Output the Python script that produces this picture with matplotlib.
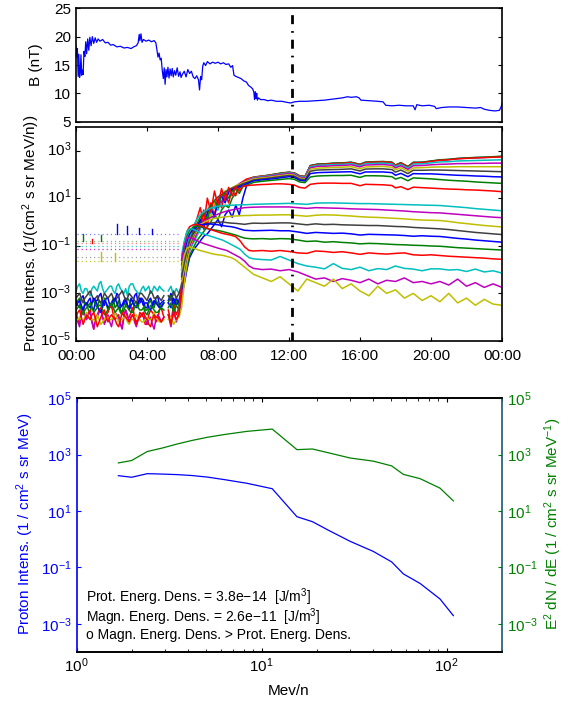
import numpy as np
import matplotlib
matplotlib.use('Agg')
import matplotlib.pyplot as plt
from matplotlib.ticker import FixedLocator, NullLocator, NullFormatter, LogLocator
from matplotlib.transforms import ScaledTranslation

plt.rcParams['font.family'] = ['Liberation Sans', 'DejaVu Sans']
plt.rcParams['mathtext.fontset'] = 'custom'
plt.rcParams['mathtext.rm'] = 'Liberation Sans'
plt.rcParams['mathtext.it'] = 'Liberation Sans:italic'
plt.rcParams['mathtext.bf'] = 'Liberation Sans:bold'
plt.rcParams['lines.scale_dashes'] = False
plt.rcParams['axes.linewidth'] = 1.2

# ---------------- top panel: magnetic field ----------------
B_t = [0.00,0.04,0.08,0.12,0.16,0.20,0.24,0.28,0.32,0.36,0.40,0.45,0.50,0.55,0.60,0.66,0.72,0.78,0.85,0.92,
       1.00,1.08,1.16,1.25,1.35,1.50,1.65,1.80,1.95,2.10,2.30,2.50,2.70,2.90,3.10,3.25,3.40,3.50,3.56,3.60,
       3.66,3.72,3.80,3.95,4.10,4.25,4.40,4.50,4.56,4.62,4.68,4.74,4.80,4.86,4.92,4.97,5.02,5.07,5.12,5.18,
       5.24,5.30,5.36,5.42,5.48,5.55,5.62,5.70,5.78,5.86,5.92,6.00,6.10,6.20,6.30,6.40,6.50,6.60,6.70,6.80,
       6.90,6.96,7.02,7.08,7.14,7.20,7.30,7.40,7.55,7.70,7.85,8.00,8.15,8.30,8.45,8.60,8.72,8.82,8.90,9.00,
       9.15,9.30,9.45,9.60,9.72,9.85,9.95,10.02,10.06,10.10,10.14,10.18,10.22,10.28,10.40,10.60,10.80,11.00,11.30,11.60,
       11.90,12.10,12.30,12.60,13.00,13.50,14.00,14.50,15.00,15.30,15.50,15.80,15.95,16.05,16.50,17.00,17.30,17.45,17.80,18.20,
       18.60,19.00,19.10,19.20,19.50,19.90,20.20,20.30,20.60,21.00,21.50,22.00,22.50,22.80,23.00,23.30,23.60,23.85,23.95,24.00]
B_nT = [18.3,16.4,17.9,13.0,16.9,12.8,13.6,16.8,13.2,14.1,13.3,17.4,16.5,19.1,17.0,19.6,17.6,19.9,18.4,20.0,
        18.8,19.8,19.0,19.6,19.2,19.5,18.9,19.0,18.5,18.6,18.2,18.3,18.0,18.1,17.9,18.2,18.4,18.9,20.4,19.3,
        20.5,19.0,19.5,19.2,19.4,19.1,19.3,18.9,17.6,16.4,17.1,15.9,16.2,14.0,12.6,14.5,11.6,14.2,12.9,14.6,
        12.7,14.3,13.1,14.4,12.9,14.0,13.2,14.5,13.0,13.8,12.8,13.4,13.9,12.9,14.2,13.5,13.9,12.9,12.6,13.1,
        12.4,10.6,13.0,12.4,14.8,15.4,14.9,15.6,15.2,15.5,15.3,15.5,15.2,15.4,15.1,15.2,14.6,14.9,13.2,13.0,
        12.8,12.6,12.2,12.0,11.4,11.1,10.8,10.2,8.9,10.3,9.1,10.0,8.8,9.2,8.9,8.9,8.7,8.8,8.6,8.6,
        8.4,8.3,8.5,8.6,8.6,8.7,8.8,9.0,9.2,9.4,9.3,9.4,9.2,8.8,8.7,8.6,8.5,7.9,7.8,7.9,
        7.8,7.8,7.1,8.0,7.8,7.9,7.7,7.3,7.5,7.6,7.6,7.5,7.4,7.5,7.2,7.0,6.9,7.0,7.6,8.2]

event_time = 12.15           # time of the spectrum (hours)
time_ticks = [0, 4, 8, 12, 16, 20, 24]
time_labels = ['00:00', '04:00', '08:00', '12:00', '16:00', '20:00', '00:00']

# ---------------- middle panel: proton intensities (log10) ----------------
T_BG = [0.0,0.1,0.2,0.3,0.4,0.5,0.6,0.7,0.8,0.9,1.0,1.1,1.2,1.3,1.4,1.5,1.6,1.7,1.8,1.9,
        2.0,2.1,2.2,2.3,2.4,2.5,2.6,2.7,2.8,2.9,3.0,3.1,3.2,3.3,3.4,3.5,3.6,3.7,3.8,3.9,
        4.0,4.1,4.2,4.3,4.4,4.5,4.6,4.7,4.8,4.95]
T_EV = [5.2,5.35,5.5,5.65,5.8,5.95,6.1,6.25,6.4,6.6,6.8,7.0,7.2,7.4,7.6,7.8,8.0,8.2,8.4,8.6,
        8.8,9.0,9.2,9.4,9.6,9.8,10.0,10.4,10.8,11.2,11.6,12.0,12.3,12.6,12.9,13.2,13.6,14.0,14.5,15.0,
        15.5,16.0,16.3,16.8,17.3,17.8,18.0,18.3,18.7,19.0,19.5,20.0,20.5,21.0,21.5,22.0,22.5,23.0,23.5,24.0]

led0_bg = [-3.3,-3.5,-3.6,-3.2,-3.1,-3.4,-3.5,-3.3,-3.2,-3.6, -3.7,-3.3,-3.3,-3.1,-3.0,-3.4,-3.5,-3.2,-3.2,-3.5,
           -3.6,-3.4,-3.3,-3.0,-3.1,-3.5,-3.5,-3.3,-3.2,-3.5, -3.6,-3.2,-3.4,-3.1,-3.0,-3.4,-3.4,-3.2,-3.3,-3.6,
           -3.6,-3.3,-3.2,-3.4,-3.5,-3.2,-3.1,-3.5,-3.4,-3.3]
led1_bg = [-3.5,-3.3,-3.2,-3.6,-3.7,-3.4,-3.4,-3.7,-3.8,-3.4, -3.3,-3.5,-3.6,-3.3,-3.4,-3.6,-3.2,-3.4,-3.7,-3.5,
           -3.4,-3.2,-3.6,-3.5,-3.3,-3.7,-3.8,-3.4,-3.5,-3.2, -3.3,-3.6,-3.7,-3.4,-3.4,-3.6,-3.2,-3.3,-3.5,-3.7,
           -3.7,-3.4,-3.3,-3.5,-3.6,-3.3,-3.4,-3.6,-3.5,-3.4]
led2_bg = [-3.8,-4.1,-4.3,-3.7,-3.6,-3.9,-4.0,-3.8,-3.7,-4.2, -4.5,-4.0,-3.9,-3.7,-3.6,-4.0,-4.2,-3.9,-3.8,-3.6,
           -3.5,-3.9,-4.1,-4.0,-3.9,-4.3,-4.4,-3.9,-3.7,-4.0, -4.0,-3.8,-3.6,-4.0,-4.2,-4.1,-3.8,-3.9,-4.0,-4.3,
           -4.3,-3.9,-3.7,-3.8,-3.9,-4.2,-4.1,-3.7,-3.6,-4.0]
led3_bg = [-2.9,-2.7,-2.6,-2.9,-3.0,-2.8,-2.8,-3.0,-3.1,-2.8, -2.7,-2.8,-2.9,-2.6,-2.5,-2.8,-3.0,-2.9,-2.8,-2.7,
           -2.7,-2.9,-3.0,-2.7,-2.6,-2.8,-2.9,-3.0,-2.8,-3.1, -2.7,-2.6,-2.6,-2.8,-2.9,-3.0,-3.0,-2.8,-2.7,-2.9,
           -2.8,-2.7,-3.0,-2.9,-2.7,-2.8,-2.9,-2.7,-2.8,-2.9]
led4_bg = [-3.9,-4.2,-4.4,-3.9,-3.6,-3.9,-4.1,-3.9,-3.8,-4.2, -4.5,-4.1,-4.0,-3.8,-3.7,-4.0,-4.3,-4.1,-3.9,-4.2,
           -4.4,-4.0,-3.8,-3.9,-4.0,-4.3,-4.5,-4.0,-3.7,-3.9, -4.2,-4.0,-3.9,-4.2,-4.4,-4.1,-4.0,-3.9,-3.8,-4.1,
           -4.3,-4.1,-4.0,-4.3,-4.5,-4.1,-3.9,-4.0,-4.2,-4.0]
led5_bg = [-4.1,-4.1,-4.0,-4.1,-4.2,-4.0,-3.8,-4.0,-4.1,-4.1, -4.1,-4.2,-3.9,-4.1,-4.3,-4.2,-4.1,-4.0,-4.0,-4.1,
           -4.1,-4.0,-3.8,-4.0,-4.2,-4.1,-4.1,-4.0,-4.0,-4.2, -4.3,-4.1,-4.1,-4.0,-3.9,-4.1,-4.1,-4.2,-4.2,-4.1,
           -4.0,-4.1,-4.1,-4.0,-3.8,-4.0,-4.1,-4.2,-4.2,-4.1]
led6_bg = [-3.2,-3.1,-3.0,-3.2,-3.4,-3.2,-3.1,-3.0,-2.9,-3.1, -3.3,-3.2,-3.1,-3.3,-3.4,-3.2,-3.0,-3.1,-3.2,-3.1,
           -3.0,-3.2,-3.3,-3.2,-3.1,-3.0,-2.9,-3.1,-3.3,-3.2, -3.0,-3.1,-3.2,-3.3,-3.4,-3.2,-3.0,-3.0,-3.1,-3.2,
           -3.3,-3.1,-2.9,-3.0,-3.2,-3.2,-3.1,-3.2,-3.3,-3.1]
led7_bg = [-3.5,-3.4,-3.3,-3.5,-3.7,-3.5,-3.4,-3.5,-3.6,-3.4, -3.2,-3.3,-3.5,-3.7,-3.8,-3.5,-3.3,-3.4,-3.6,-3.5,
           -3.4,-3.3,-3.2,-3.4,-3.6,-3.6,-3.5,-3.4,-3.3,-3.5, -3.7,-3.5,-3.4,-3.5,-3.6,-3.4,-3.2,-3.3,-3.5,-3.4,
           -3.4,-3.6,-3.7,-3.5,-3.3,-3.4,-3.5,-3.6,-3.6,-3.4]
led8_bg = [-3.7,-3.6,-3.5,-3.7,-3.9,-3.7,-3.6,-3.5,-3.4,-3.6, -3.8,-3.7,-3.6,-3.5,-3.5,-3.7,-3.9,-3.8,-3.7,-3.5,
           -3.4,-3.6,-3.8,-3.7,-3.6,-3.8,-3.9,-3.7,-3.5,-3.6, -3.7,-3.8,-3.8,-3.6,-3.5,-3.6,-3.7,-3.7,-3.6,-3.8,
           -3.9,-3.7,-3.5,-3.6,-3.7,-3.8,-3.8,-3.7,-3.6,-3.7]
led9_bg = [-4.0,-3.8,-3.7,-4.0,-4.3,-4.1,-3.9,-4.0,-4.1,-3.9, -3.8,-4.1,-4.4,-4.2,-4.0,-3.8,-3.7,-4.0,-4.2,-4.0,
           -3.9,-4.0,-4.1,-4.3,-4.4,-4.1,-3.8,-3.9,-4.0,-4.1, -4.2,-4.0,-3.9,-4.1,-4.3,-4.1,-4.0,-3.9,-3.8,-4.0,
           -4.1,-4.3,-4.4,-4.1,-3.9,-4.0,-4.0,-4.1,-4.2,-4.0]

led0_ev = [-3.3,-3.0,-3.5,-3.2,-3.4, -3.1,-2.6,-2.0,-1.5,
           -1.2,-1.0,-0.8,-0.6,-0.5,-0.3,-0.1,0.1,-0.2,0.3,
           0.5,0.2,0.7,0.3,1.0,1.5,1.75,1.85,1.9,1.95,
           2.0,2.05,2.08,2.05,1.93,1.9,2.36,2.42,2.43,2.46,
           2.47,2.5,2.41,2.5,2.52,2.53,2.5,2.38,2.48,2.32,
           2.5,2.5,2.55,2.6,2.62,2.66,2.68,2.7,2.71,2.73,2.75]
led1_ev = [-3.4,-3.1,-3.6,-3.3,-3.5, -3.0,-2.4,-1.9,-1.4,
           -1.1,-0.8,-0.6,-0.4,-0.2,0.0,0.3,0.1,0.5,0.7,
           0.6,1.0,1.2,1.4,1.6,1.75,1.82,1.88,1.92,1.96,
           2.01,2.06,2.09,2.06,1.94,1.91,2.37,2.43,2.44,2.47,
           2.48,2.51,2.42,2.51,2.53,2.54,2.51,2.39,2.49,2.33,
           2.5,2.51,2.56,2.61,2.63,2.67,2.69,2.71,2.72,2.74,2.76]
led2_ev = [-3.7,-4.2,-3.5,-3.9,-3.6, -3.2,-2.3,-1.7,-1.2,
           -0.8,-0.5,0.0,0.5,-0.2,0.8,0.3,1.0,0.6,1.2,
           0.8,1.4,1.1,1.6,1.7,1.8,1.84,1.88,1.92,1.95,
           2.0,2.04,2.08,2.05,1.93,1.9,2.35,2.41,2.42,2.45,
           2.46,2.49,2.4,2.49,2.51,2.52,2.49,2.37,2.47,2.31,
           2.48,2.49,2.54,2.59,2.61,2.65,2.67,2.69,2.7,2.72,2.73]
led3_ev = [-2.9,-2.7,-3.1,-2.8,-3.0, -2.6,-2.1,-1.6,-1.2,
           -0.9,-0.6,-0.3,0.0,0.2,0.4,0.6,0.5,0.9,1.0,
           1.2,1.1,1.4,1.55,1.65,1.72,1.8,1.86,1.9,1.93,
           1.98,2.02,2.06,2.03,1.91,1.88,2.32,2.38,2.39,2.41,
           2.42,2.45,2.36,2.45,2.46,2.47,2.44,2.33,2.42,2.27,
           2.43,2.44,2.48,2.52,2.53,2.56,2.57,2.58,2.59,2.6,2.61]
led4_ev = [-3.9,-4.4,-3.7,-4.2,-3.8, -3.3,-2.2,-1.5,-1.1,
           -0.8,-0.5,-0.2,0.1,0.3,0.5,0.7,0.9,0.8,1.1,
           1.3,1.4,1.5,1.6,1.68,1.72,1.78,1.83,1.87,1.9,
           1.95,1.99,2.03,2.0,1.88,1.85,2.27,2.33,2.34,2.36,
           2.37,2.4,2.31,2.39,2.4,2.41,2.38,2.27,2.36,2.21,
           2.36,2.37,2.4,2.42,2.43,2.45,2.45,2.46,2.46,2.47,2.47]
led5_ev = [-4.1,-4.0,-4.3,-4.1,-4.0, -3.6,-2.6,-1.7,-1.1,
           -0.7,-0.4,0.0,0.3,0.5,0.2,0.8,1.0,1.1,1.3,
           1.35,1.45,1.52,1.58,1.64,1.7,1.75,1.8,1.84,1.87,
           1.91,1.95,1.99,1.96,1.84,1.81,2.21,2.26,2.27,2.29,
           2.3,2.32,2.23,2.31,2.32,2.33,2.3,2.19,2.28,2.13,
           2.27,2.28,2.3,2.31,2.31,2.32,2.32,2.32,2.32,2.32,2.32]
led6_ev = [-3.1,-3.3,-2.9,-3.2,-3.0, -2.7,-2.0,-1.4,-1.0,
           -0.6,-0.3,0.0,0.3,0.5,0.7,0.9,1.05,1.15,1.25,
           1.35,1.42,1.48,1.54,1.6,1.65,1.7,1.76,1.8,1.83,
           1.87,1.91,1.95,1.92,1.8,1.77,2.13,2.18,2.19,2.2,
           2.21,2.23,2.14,2.22,2.23,2.23,2.2,2.09,2.18,2.03,
           2.17,2.17,2.18,2.18,2.17,2.16,2.15,2.14,2.13,2.12,2.11]
led7_ev = [-3.4,-3.6,-3.2,-3.5,-3.3, -2.8,-2.0,-1.3,-0.9,
           -0.5,-0.2,0.1,-0.3,0.4,0.6,0.2,0.9,1.1,0.8,
           1.25,1.35,1.42,1.48,1.53,1.6,1.66,1.72,1.76,1.79,
           1.82,1.86,1.9,1.87,1.75,1.72,2.03,2.07,2.08,2.09,
           2.1,2.11,2.02,2.1,2.1,2.1,2.07,1.96,2.04,1.9,
           2.03,2.02,2.02,2.0,1.98,1.96,1.95,1.93,1.92,1.9,1.89]
led8_ev = [-3.6,-3.4,-3.8,-3.5,-3.7, -2.7,-1.8,-1.2,-0.8,
           -0.4,-0.1,0.2,0.4,0.1,0.7,0.9,0.6,1.1,1.2,
           1.0,1.3,1.38,1.2,1.48,1.53,1.6,1.66,1.7,1.73,
           1.76,1.79,1.82,1.79,1.68,1.65,1.89,1.93,1.94,1.95,
           1.95,1.96,1.87,1.94,1.94,1.93,1.9,1.8,1.87,1.73,
           1.85,1.83,1.81,1.78,1.75,1.73,1.71,1.68,1.66,1.64,1.62]
led9_ev = [-3.9,-4.3,-3.8,-4.1,-3.9, -2.6,-1.6,-1.0,-0.6,
           -0.3,0.1,0.6,-0.1,1.0,0.4,1.3,0.7,1.4,0.9,
           1.45,1.1,1.5,1.3,1.5,1.52,1.54,1.55,1.57,1.58,
           1.6,1.6,1.58,1.55,1.45,1.42,1.58,1.62,1.63,1.63,
           1.62,1.62,1.52,1.58,1.57,1.56,1.53,1.43,1.48,1.36,
           1.46,1.44,1.42,1.4,1.38,1.37,1.35,1.34,1.32,1.3,1.27]

T_HED = [5.95,6.1,6.25,6.4,6.6,6.8,7.0,7.25,7.5,7.75,
         8.0,8.25,8.5,8.75,9.0,9.25,9.5,9.75,10.0,10.5,
         11.0,11.5,12.0,12.5,13.0,13.5,14.0,14.5,15.0,15.5,
         16.0,16.5,17.0,17.5,18.0,18.5,19.0,19.5,20.0,20.5,
         21.0,21.5,22.0,22.5,23.0,23.5,24.0]
hed0 = [-2.2,-1.6,-1.0,-0.6,-0.2,0.1,0.3,0.45,0.55,0.62,
        0.66,0.68,0.7,0.7,0.71,0.72,0.72,0.73,0.74,0.75,
        0.76,0.77,0.78,0.76,0.74,0.79,0.8,0.8,0.79,0.78,
        0.77,0.77,0.76,0.75,0.74,0.73,0.72,0.71,0.7,0.69,
        0.66,0.63,0.6,0.56,0.53,0.5,0.47]
hed1 = [-2.4,-1.9,-1.4,-1.0,-0.6,-0.3,-0.1,0.05,0.15,0.25,
        0.33,0.4,0.46,0.5,0.54,0.57,0.6,0.61,0.62,0.63,
        0.63,0.63,0.63,0.6,0.57,0.6,0.59,0.58,0.57,0.55,
        0.54,0.53,0.52,0.5,0.48,0.46,0.43,0.41,0.39,0.38,
        0.35,0.32,0.29,0.26,0.23,0.2,0.18]
hed2 = [-2.5,-2.0,-1.3,-0.9,-0.55,-0.3,-0.12,0.0,0.08,0.14,
        0.18,0.2,0.22,0.24,0.25,0.26,0.27,0.27,0.28,0.29,
        0.29,0.3,0.3,0.27,0.24,0.28,0.3,0.29,0.27,0.25,
        0.22,0.2,0.19,0.17,0.15,0.13,0.1,0.08,0.07,0.06,
        0.02,-0.03,-0.07,-0.11,-0.15,-0.18,-0.21]
hed3 = [-2.3,-1.7,-1.2,-0.8,-0.5,-0.3,-0.18,-0.1,-0.06,-0.03,
        -0.02,0.0,-0.03,-0.05,-0.06,-0.08,-0.1,-0.07,-0.05,-0.06,
        -0.05,-0.04,-0.04,-0.08,-0.12,-0.08,-0.11,-0.1,-0.12,-0.13,
        -0.14,-0.15,-0.15,-0.17,-0.19,-0.2,-0.23,-0.25,-0.27,-0.29,
        -0.32,-0.36,-0.4,-0.44,-0.47,-0.5,-0.53]
hed4 = [-2.0,-1.3,-0.8,-0.5,-0.3,-0.18,-0.12,-0.1,-0.08,-0.1,
        -0.12,-0.15,-0.18,-0.2,-0.24,-0.3,-0.35,-0.36,-0.37,-0.36,
        -0.35,-0.37,-0.37,-0.42,-0.48,-0.44,-0.46,-0.48,-0.47,-0.5,
        -0.55,-0.52,-0.53,-0.54,-0.55,-0.57,-0.6,-0.58,-0.6,-0.61,
        -0.65,-0.69,-0.72,-0.76,-0.79,-0.82,-0.85]
hed5 = [-1.8,-1.1,-0.6,-0.35,-0.22,-0.18,-0.2,-0.25,-0.3,-0.33,
        -0.36,-0.4,-0.45,-0.5,-0.55,-0.62,-0.68,-0.7,-0.71,-0.7,
        -0.72,-0.7,-0.71,-0.76,-0.82,-0.8,-0.85,-0.83,-0.86,-0.88,
        -0.92,-0.9,-0.91,-0.93,-0.95,-0.96,-0.98,-0.99,-1.01,-1.02,
        -1.05,-1.08,-1.1,-1.12,-1.14,-1.16,-1.18]
hed6 = [-1.6,-0.9,-0.4,-0.2,-0.12,-0.1,-0.15,-0.22,-0.3,-0.36,
        -0.42,-0.48,-0.52,-0.56,-0.62,-0.8,-1.05,-1.2,-1.22,-1.2,
        -1.23,-1.2,-1.24,-1.3,-1.32,-1.22,-1.24,-1.28,-1.25,-1.3,
        -1.36,-1.3,-1.33,-1.35,-1.32,-1.3,-1.38,-1.4,-1.38,-1.41,
        -1.44,-1.46,-1.48,-1.5,-1.52,-1.55,-1.57]
hed7 = [-1.4,-0.8,-0.4,-0.28,-0.3,-0.38,-0.45,-0.52,-0.58,-0.64,
        -0.7,-0.76,-0.85,-0.95,-1.05,-1.15,-1.35,-1.5,-1.55,-1.58,
        -1.6,-1.45,-1.6,-1.75,-1.85,-1.9,-1.97,-1.75,-1.95,-2.0,
        -1.9,-2.05,-1.96,-2.0,-1.85,-1.95,-1.98,-2.05,-1.97,-1.97,
        -2.02,-2.0,-2.08,-1.98,-2.1,-2.05,-2.15]
hed8 = [-1.6,-1.0,-0.7,-0.65,-0.7,-0.78,-0.85,-0.92,-0.98,-1.04,
        -1.1,-1.15,-1.2,-1.3,-1.4,-1.5,-1.65,-1.85,-1.95,-2.0,
        -1.98,-2.05,-2.0,-2.1,-2.25,-2.4,-2.35,-2.5,-2.38,-2.45,
        -2.55,-2.4,-2.6,-2.45,-2.5,-2.35,-2.55,-2.5,-2.6,-2.5,
        -2.65,-2.4,-2.7,-2.55,-2.75,-2.6,-2.75]
hed9 = [-2.0,-1.4,-1.1,-1.05,-1.1,-1.15,-1.2,-1.25,-1.3,-1.35,
        -1.38,-1.4,-1.45,-1.5,-1.6,-1.75,-1.9,-2.05,-2.2,-2.35,
        -2.5,-2.3,-2.6,-2.9,-2.4,-2.55,-2.7,-2.4,-2.8,-2.6,
        -2.9,-3.1,-2.7,-3.0,-2.85,-3.2,-3.0,-3.3,-3.1,-3.35,
        -3.0,-3.4,-3.2,-3.5,-3.25,-3.45,-3.5]

# pre-event background levels of the high-energy channels (log10), drawn dotted
T_HBG = [0.08, 5.9]
hed_bg_level = [-0.99, -1.13, -1.66, -1.48, -0.5, -0.78, -0.88, -1.0, -1.15, -1.62]
spike_t = [0.37, 0.9, 1.4, 1.4, 2.2, 2.3, 2.9, 3.55, 4.3]
spike_lo = [-0.78, -0.88, -0.78, -1.66, -1.66, -0.5, -0.5, -0.5, -0.5]
spike_hi = [-0.5, -0.7, -0.55, -1.25, -1.3, -0.1, -0.15, -0.25, -0.3]
spike_ch = [5, 6, 5, 2, 2, 4, 4, 4, 4]

# ---------------- bottom panel: spectrum at event_time ----------------
energy = [1.68, 1.98, 2.41, 2.9, 3.5, 4.2, 5.1, 6.3, 8.3, 11.4,
          15.5, 18.8, 22.9, 30.1, 40.1, 50.4, 58.3, 71.8, 92.0, 108.6]
intensity = [180, 158, 212, 205, 196, 182, 160, 130, 97, 62,
             6.3, 4.2, 2.1, 0.84, 0.37, 0.157, 0.059, 0.027, 0.0076, 0.00195]
e2_intensity = [510, 620, 1300, 1720, 2400, 3200, 4150, 5200, 6700, 8100,
                1510, 1590, 1170, 760, 590, 400, 200, 141, 65, 23]
info_lines = ['Prot. Energ. Dens. = 3.8e\u221214  [J/m$^3$]',
              'Magn. Energ. Dens. = 2.6e\u221211  [J/m$^3$]',
              'o Magn. Energ. Dens. > Prot. Energ. Dens.']

# ---------------- styling ----------------
MB, MG, MR = (0, 0, 1), (0, 0.5, 0), (1, 0, 0)
MC, MM, MY, MK = (0, 0.75, 0.75), (0.75, 0, 0.75), (0.75, 0.75, 0), (0.25, 0.25, 0.25)
cycle = [MB, MG, MR, MC, MM, MY, MK]

W, H = 579, 702
fig = plt.figure(figsize=(W / 100, H / 100), dpi=100)

def rect(l, t, r, b):
    return [l / W, 1 - b / H, (r - l) / W, (b - t) / H]

ax1 = fig.add_axes(rect(76, 8.3, 502, 121.7))
ax2 = fig.add_axes(rect(76, 126.7, 502, 341))
ax3 = fig.add_axes(rect(76.7, 398.3, 502.4, 652))

TICK_FS = 11
dash = dict(color='k', lw=2.0, dashes=(6.5, 5, 1.2, 5))

# top panel
ax1.plot(B_t, B_nT, color=MB, lw=0.9)
ax1.axvline(event_time, **dash)
ax1.set_xlim(0, 24)
ax1.set_ylim(5, 25)
ax1.set_yticks([5, 10, 15, 20, 25])
ax1.tick_params(axis='y', direction='in', right=True, length=3, labelsize=TICK_FS)
ax1.tick_params(axis='x', bottom=False, labelbottom=False)
fig.text(36 / W, 1 - 65 / H, 'B (nT)', rotation=90, ha='center', va='center', fontsize=11)

# middle panel
led_bg = [led0_bg, led1_bg, led2_bg, led3_bg, led4_bg, led5_bg, led6_bg, led7_bg, led8_bg, led9_bg]
led_ev = [led0_ev, led1_ev, led2_ev, led3_ev, led4_ev, led5_ev, led6_ev, led7_ev, led8_ev, led9_ev]
hed = [hed0, hed1, hed2, hed3, hed4, hed5, hed6, hed7, hed8, hed9]

for k, lev in enumerate(hed_bg_level):
    col = cycle[(k + 10) % 7]
    ax2.plot(T_HBG, [10 ** lev] * 2, color=col, lw=0.9, alpha=0.55, dashes=(0.8, 2.2))
for t, lo, hi, ch in zip(spike_t, spike_lo, spike_hi, spike_ch):
    ax2.plot([t, t], [10 ** lo, 10 ** hi], color=cycle[(ch + 10) % 7], lw=1.0)

for k in range(10):
    t = np.concatenate([T_BG, [np.nan], T_EV])
    v = np.concatenate([led_bg[k], [np.nan], led_ev[k]])
    ax2.plot(t, 10 ** v, color=cycle[k % 7], lw=1.1)
for k in range(10):
    ax2.plot(T_HED, 10 ** np.array(hed[k]), color=cycle[(k + 10) % 7], lw=1.1)

ax2.axvline(event_time, **dash)
ax2.set_yscale('log')
ax2.set_xlim(0, 24)
ax2.set_ylim(1e-5, 1e4)
ax2.yaxis.set_major_locator(FixedLocator([1e-5, 1e-3, 1e-1, 1e1, 1e3]))
ax2.yaxis.set_minor_locator(NullLocator())
ax2.set_xticks(time_ticks)
ax2.set_xticklabels(time_labels)
ax2.tick_params(direction='in', top=True, right=True, length=3, labelsize=TICK_FS)
ax2.tick_params(axis='x', pad=5.5)
fig.text(31.7 / W, 1 - 233.8 / H, 'Proton Intens. (1/(cm$^2$ s sr MeV/n))', rotation=90,
         ha='center', va='center', fontsize=11)

# bottom panel
ax3.plot(energy, intensity, color=MB, lw=0.9)
ax3.set_xscale('log')
ax3.set_yscale('log')
ax3.set_xlim(1, 200)
ax3.set_ylim(1e-4, 1e5)
ax3r = ax3.twinx()
ax3r.plot(energy, e2_intensity, color=MG, lw=0.9)
ax3r.set_yscale('log')
ax3r.set_ylim(1e-4, 1e5)
for a in (ax3, ax3r):
    a.yaxis.set_major_locator(FixedLocator([1e-3, 1e-1, 1e1, 1e3, 1e5]))
    a.yaxis.set_minor_locator(NullLocator())
ax3.xaxis.set_major_locator(LogLocator(base=10))
ax3.xaxis.set_minor_locator(LogLocator(base=10, subs=np.arange(2, 10)))
ax3.xaxis.set_minor_formatter(NullFormatter())
ax3.tick_params(axis='x', which='both', direction='in', top=True, labelsize=TICK_FS)
ax3.tick_params(axis='x', which='major', length=3)
ax3.tick_params(axis='x', which='minor', length=2)
ax3.tick_params(axis='y', direction='in', length=3, colors=MB, labelsize=TICK_FS)
ax3r.tick_params(axis='y', direction='in', length=3, colors=MG, labelsize=TICK_FS)
ax3.spines['left'].set_color(MB)
ax3.spines['right'].set_visible(False)
ax3r.spines['left'].set_visible(False)
ax3r.spines['right'].set_color((0.1, 0.35, 0.45))
for i, line in enumerate(info_lines):
    ax3.text(0.021, [0.217, 0.138, 0.067][i], line, transform=ax3.transAxes,
             ha='left', va='center', fontsize=10)
fig.text(25 / W, 1 - 524 / H, 'Proton Intens. (1 / cm$^2$ s sr MeV)', rotation=90,
         ha='center', va='center', fontsize=11, color=MB)
fig.text(553 / W, 1 - 524 / H, 'E$^2$ dN / dE (1 / cm$^2$ s sr MeV$^{-1}$)', rotation=90,
         ha='center', va='center', fontsize=11, color=MG)
fig.text(289 / W, 1 - 691 / H, 'Mev/n', ha='center', va='center', fontsize=11)

# lift the middle panel's y tick labels slightly so the lowest clears the time labels
lift = ScaledTranslation(0, 2.5 / 100, fig.dpi_scale_trans)
for tk in ax2.yaxis.get_major_ticks():
    tk.label1.set_transform(tk.label1.get_transform() + lift)

fig.savefig('out.png', dpi=100)
